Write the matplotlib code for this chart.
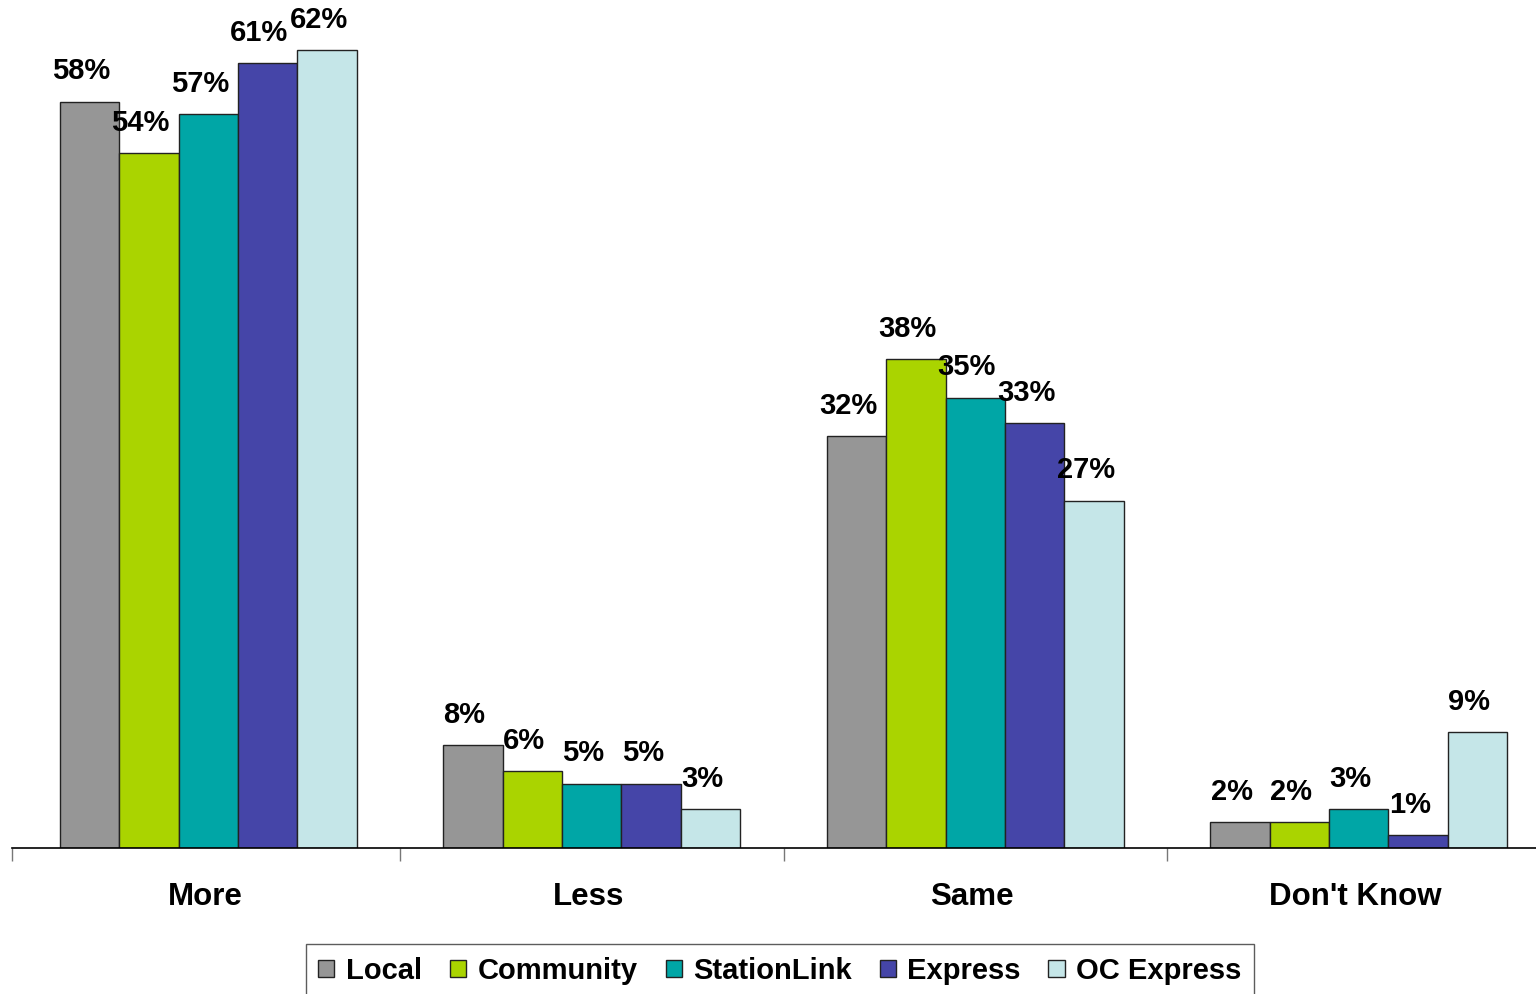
import matplotlib.pyplot as plt
import numpy as np

plt.rcParams['font.family'] = ['Liberation Sans', 'DejaVu Sans']

categories = ["More", "Less", "Same", "Don't Know"]
series = ["Local", "Community", "StationLink", "Express", "OC Express"]
local = [58, 8, 32, 2]
community = [54, 6, 38, 2]
stationlink = [57, 5, 35, 3]
express = [61, 5, 33, 1]
oc_express = [62, 3, 27, 9]
colors = ["#969696", "#aad400", "#00a6a6", "#4545a8", "#c5e6e8"]

values = [local, community, stationlink, express, oc_express]

fig = plt.figure(figsize=(15.36, 9.94), dpi=100)
# axes placed in pixel terms: baseline ~848 px from top, left edge at 12 px
ax = fig.add_axes([12 / 1536, (994 - 848) / 994, 1524 / 1536, 848 / 994])

x = np.arange(len(categories))
w = 0.155
for i, (name, vals, c) in enumerate(zip(series, values, colors)):
    pos = x - 2.5 * w + w / 2 + i * w
    bars = ax.bar(pos, vals, width=w, color=c, edgecolor="#222222",
                  linewidth=1.0, label=name)
    for b, v in zip(bars, vals):
        ax.annotate(f"{v}%", (b.get_x() + b.get_width() / 2, v),
                    xytext=(-6, 16), textcoords="offset points",
                    ha="center", va="baseline", fontsize=21,
                    fontweight="bold")

left = -0.5 - 4.5 / 383.5
ax.set_xlim(left, left + 1524 / 383.5)
ax.set_ylim(0, 848 / 12.87)

for s in ["top", "right", "left"]:
    ax.spines[s].set_visible(False)
ax.spines["bottom"].set_color("black")
ax.spines["bottom"].set_linewidth(1.2)
ax.set_yticks([])

ax.set_xticks([left, 0.5, 1.5, 2.5])
ax.set_xticklabels([])
ax.tick_params(axis="x", direction="out", length=9, width=1, color="#777777")
for xi, cat in zip(x, categories):
    ax.text(xi - 0.008, -3.8, cat, ha="center", va="center", fontsize=22.5,
            fontweight="bold", clip_on=False)

leg = fig.legend(loc="lower center", bbox_to_anchor=(780 / 1536, -0.003),
                 ncol=5, prop={"weight": "bold", "size": 21},
                 frameon=True, fancybox=False, handlelength=0.55,
                 handleheight=0.55, handletextpad=0.4, columnspacing=0.95,
                 borderpad=0.42, borderaxespad=0)
leg.get_frame().set_edgecolor("#333333")
leg.get_frame().set_linewidth(1.0)

fig.savefig("out.png", dpi=100)
